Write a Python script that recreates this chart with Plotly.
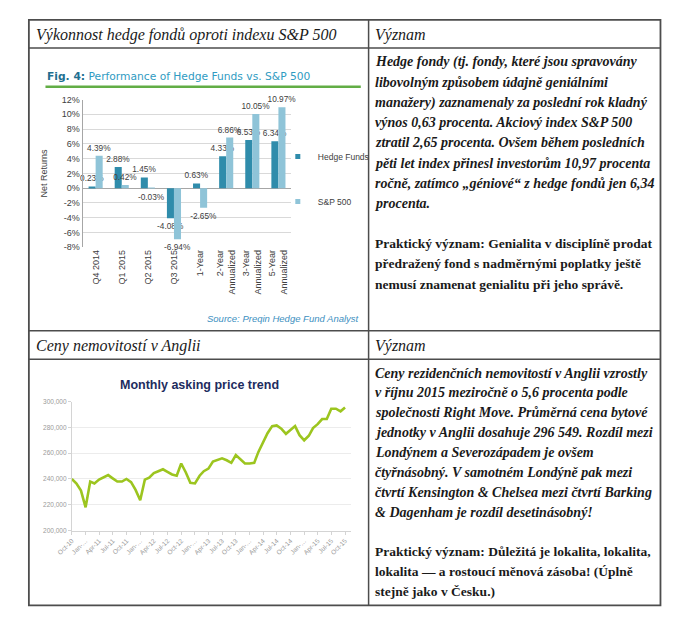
import plotly.graph_objects as go
import pandas as pd

# The page body adds an 8px margin, so the figure is sized to the visible area
# and reference pixel positions are mapped with that offset.
OFF = 8
W, H = 672, 620


def px(x):
    return (x - OFF) / W


def py(y):
    return 1 - (y - OFF) / H


# ---------------- data: hedge funds vs S&P 500 ----------------
bar_categories = ["Q4 2014", "Q1 2015", "Q2 2015", "Q3 2015", "1-Year",
                  "2-Year<br>Annualized", "3-Year<br>Annualized", "5-Year<br>Annualized"]
hedge_funds = [0.23, 2.88, 1.45, -4.08, 0.63, 4.33, 6.53, 6.34]
sp500 = [4.39, 0.42, -0.03, -6.94, -2.65, 6.86, 10.05, 10.97]
bar_y_ticks = [12, 10, 8, 6, 4, 2, 0, -2, -4, -6, -8]

# ---------------- data: monthly asking price trend ----------------
price_months = pd.date_range("2010-10-01", periods=61, freq="MS")
asking_price = [
    240000, 236500, 231000, 218000, 238000, 236500, 239500, 241500, 243000, 240500,
    238000, 238000, 240000, 237500, 231500, 223500, 239500, 241000, 244500, 246000,
    247500, 245500, 243500, 242500, 252000, 245000, 237000, 236500, 242500, 246000,
    248000, 253500, 255000, 256000, 254500, 252500, 258500, 255500, 252000, 252000,
    252500, 261000, 268000, 275500, 281000, 281500, 279000, 275000, 278000, 281000,
    274000, 270000, 273500, 279500, 282500, 286500, 286500, 294500, 294500, 292500,
    295500,
]
price_tickvals = pd.date_range("2010-10-01", periods=21, freq="3MS")
price_ticktext = ["Oct-10", "Jan-…", "Apr-11", "Jul-11", "Oct-11", "Jan-…", "Apr-12",
                  "Jul-12", "Oct-12", "Jan-…", "Apr-13", "Jul-13", "Oct-13", "Jan-…",
                  "Apr-14", "Jul-14", "Oct-14", "Jan-…", "Apr-15", "Jul-15", "Oct-15"]
price_y_ticks = [200000, 220000, 240000, 260000, 280000, 300000]

# ---------------- table texts ----------------
header_left_1 = "Výkonnost hedge fondů oproti indexu S&P 500"
header_left_2 = "Ceny nemovitostí v Anglii"
header_right = "Význam"

cell1_italic = [
    "Hedge fondy (tj. fondy, které jsou spravovány",
    "libovolným způsobem údajně geniálními",
    "manažery) zaznamenaly za poslední rok kladný",
    "výnos 0,63 procenta. Akciový index S&P 500",
    "ztratil 2,65 procenta. Ovšem během posledních",
    "pěti let index přinesl investorům 10,97 procenta",
    "ročně, zatímco „géniové“ z hedge fondů jen 6,34",
    "procenta.",
]
cell1_bold = [
    "Praktický význam: Genialita v disciplíně prodat",
    "předražený fond s nadměrnými poplatky ještě",
    "nemusí znamenat genialitu při jeho správě.",
]
cell2_italic = [
    "Ceny rezidenčních nemovitostí v Anglii vzrostly",
    "v říjnu 2015 meziročně o 5,6 procenta podle",
    "společnosti Right Move. Průměrná cena bytové",
    "jednotky v Anglii dosahuje 296 549. Rozdíl mezi",
    "Londýnem a Severozápadem je ovšem",
    "čtyřnásobný. V samotném Londýně pak mezi",
    "čtvrtí Kensington & Chelsea mezi čtvrtí Barking",
    "& Dagenham je rozdíl desetinásobný!",
]
cell2_bold = [
    "Praktický význam: Důležitá je lokalita, lokalita,",
    "lokalita — a rostoucí měnová zásoba! (Úplně",
    "stejně jako v Česku.)",
]

HF_COLOR = "#2f8cab"
SP_COLOR = "#8fc4d8"
LINE_COLOR = "#9cc51f"
SERIF = "Liberation Serif, serif"
SANS = "Liberation Sans, Arial, sans-serif"

fig = go.Figure()

series = [("Hedge Funds", hedge_funds, HF_COLOR, "hf"), ("S&P 500", sp500, SP_COLOR, "sp")]
for name, values, color, group in series:
    fig.add_trace(go.Bar(
        x=bar_categories, y=values, name=name, legendgroup=group, showlegend=False,
        marker=dict(color=color, line=dict(width=0)),
        text=[f"{v:.2f}%" for v in values], textposition="outside",
        constraintext="none", cliponaxis=False,
        textfont=dict(family=SANS, size=8.3, color="#404040"),
        xaxis="x", yaxis="y",
    ))
# small square legend keys (as in the original Excel legend), grouped with the bars
for name, values, color, group in series:
    fig.add_trace(go.Scatter(
        x=[None], y=[None], mode="markers", name=name, legendgroup=group,
        marker=dict(symbol="square", size=5, color=color),
        xaxis="x", yaxis="y",
    ))

fig.add_trace(go.Scatter(
    x=price_months, y=asking_price, mode="lines", showlegend=False,
    line=dict(color=LINE_COLOR, width=2.6),
    xaxis="x2", yaxis="y2",
))

annotations = []


def add_text(x, y, text, size, family=SERIF, color="#1a1a1a", xanchor="left", **kw):
    annotations.append(dict(
        x=px(x), y=py(y), xref="paper", yref="paper", text=text, showarrow=False,
        xanchor=xanchor, yanchor="middle", font=dict(family=family, size=size, color=color),
        **kw,
    ))


# headers
add_text(18, 30, f"<i>{header_left_1}</i>", 16)
add_text(365, 30, f"<i>{header_right}</i>", 16)
add_text(18, 346, f"<i>{header_left_2}</i>", 16)
add_text(365, 346, f"<i>{header_right}</i>", 16)

# cell paragraphs
LS = 20.5
for i, line in enumerate(cell1_italic):
    add_text(365, 58 + i * LS, f"<b><i>{line}</i></b>", 14)
for i, line in enumerate(cell1_bold):
    add_text(365, 58 + (i + 9) * LS, f"<b>{line}</b>", 13.5)
for i, line in enumerate(cell2_italic):
    add_text(365, 374 + i * 20.2, f"<b><i>{line}</i></b>", 14)
for i, line in enumerate(cell2_bold):
    add_text(365, 374 + (i + 9) * 20.2, f"<b>{line}</b>", 13.5)

# bar chart title / source
add_text(30, 73,
         "<span style='color:#1f6f90'><b>Fig. 4:</b></span> Performance of Hedge Funds vs. S&P 500",
         10.7, family="DejaVu Sans, sans-serif", color="#2f9bc2")
add_text(353, 318, "<i>Source: Preqin Hedge Fund Analyst</i>", 9.5,
         family=SANS, color="#3d90bf", xanchor="right")

# line chart title
add_text(188, 386, "<b>Monthly asking price trend</b>", 12.5, family=SANS,
         color="#1d2c5e", xanchor="center")

shapes = []


def line_shape(x0, y0, x1, y1, color="#4d4d4d", width=1.5):
    shapes.append(dict(type="line", xref="paper", yref="paper",
                       x0=px(x0), y0=py(y0), x1=px(x1), y1=py(y1),
                       line=dict(color=color, width=width)))


# table grid
shapes.append(dict(type="rect", xref="paper", yref="paper",
                   x0=px(13), y0=py(15), x1=px(660), y1=py(610),
                   line=dict(color="#4d4d4d", width=1.8)))
line_shape(361, 15, 361, 610)
line_shape(13, 43.5, 660, 43.5)
line_shape(13, 331, 660, 331)
line_shape(13, 360, 660, 360)
# green rule below bar chart title
line_shape(30, 83, 353, 83, color="#62ad45", width=2.5)

fig.update_layout(
    width=W, height=H, autosize=False,
    margin=dict(l=0, r=0, t=0, b=0),
    paper_bgcolor="white", plot_bgcolor="white",
    barmode="group", bargap=0.46, bargroupgap=0.0,
    showlegend=True,
    legend=dict(
        x=px(268), y=py(139), xanchor="left", yanchor="top",
        font=dict(family=SANS, size=8.5, color="#404040"),
        bgcolor="rgba(0,0,0,0)", traceorder="grouped", tracegroupgap=26,
        itemwidth=30,
    ),
    xaxis=dict(
        domain=[px(68), px(282)], anchor="y", type="category",
        showgrid=False, showline=False, ticks="", tickangle=-90,
        tickfont=dict(family=SANS, size=9, color="#404040"),
        fixedrange=True,
    ),
    yaxis=dict(
        domain=[py(246), py(96)], anchor="x", range=[-8, 12],
        tickvals=bar_y_ticks, ticktext=[f"{v}%" for v in bar_y_ticks],
        showgrid=True, gridcolor="#d9d9d9", gridwidth=1,
        showline=True, linecolor="#a6a6a6", linewidth=1,
        zeroline=True, zerolinecolor="#a6a6a6", zerolinewidth=1,
        tickfont=dict(family=SANS, size=9, color="#404040"),
        title=dict(text="Net Returns", font=dict(family=SANS, size=9, color="#404040"),
                   standoff=12),
        fixedrange=True,
    ),
    xaxis2=dict(
        domain=[px(57), px(343)], anchor="y2", type="date",
        range=["2010-10-01", "2015-11-10"],
        tickvals=price_tickvals, ticktext=price_ticktext, tickangle=-45,
        showgrid=False, showline=True, linecolor="#d4d4d4", linewidth=1,
        ticks="outside", ticklen=3, tickcolor="#d4d4d4",
        tickfont=dict(family=SANS, size=6.5, color="#9a9a9a"),
        fixedrange=True,
    ),
    yaxis2=dict(
        domain=[py(534), py(403)], anchor="x2", range=[200000, 300000],
        tickvals=price_y_ticks, tickprefix="£", tickformat=",d",
        showgrid=True, gridcolor="#ececec", gridwidth=1,
        showline=True, linecolor="#d4d4d4", linewidth=1,
        ticks="outside", ticklen=3, tickcolor="#d4d4d4",
        zeroline=False,
        tickfont=dict(family=SANS, size=6.5, color="#9a9a9a"),
        fixedrange=True,
    ),
    annotations=annotations,
    shapes=shapes,
)

fig.write_html("out.html")
